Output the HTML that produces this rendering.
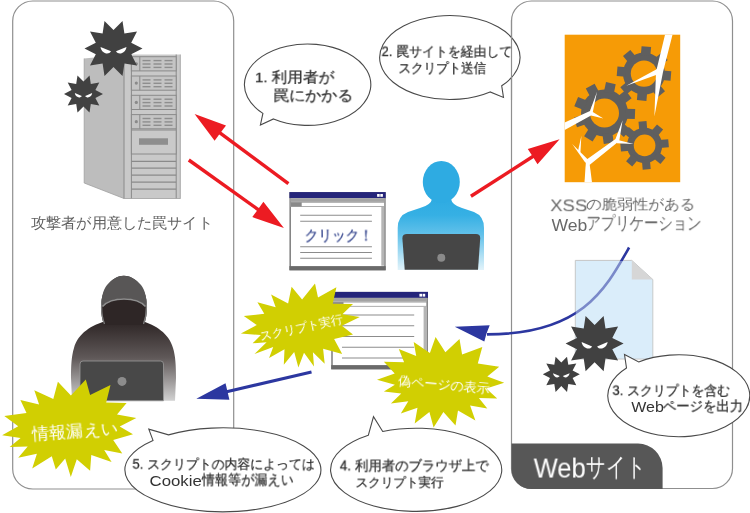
<!DOCTYPE html>
<html lang="ja"><head><meta charset="utf-8">
<style>
html,body{margin:0;padding:0;background:#fff;}
body{width:750px;height:513px;position:relative;overflow:hidden;font-family:"Liberation Sans",sans-serif;}
svg{position:absolute;left:0;top:0;}
.t{position:absolute;left:0;top:0;white-space:nowrap;line-height:1.2;transform-origin:0 0;-webkit-text-stroke:0.3px currentColor;will-change:transform;}
.w{-webkit-text-stroke:0;}
</style></head><body>
<svg width="750" height="513" viewBox="0 0 750 513">
<defs><linearGradient id="pg" gradientUnits="userSpaceOnUse" x1="0" y1="199" x2="0" y2="270"><stop offset="0" stop-color="#2eabe2"/><stop offset="0.23" stop-color="#36b0e4"/><stop offset="0.5" stop-color="#62c1ea"/><stop offset="1" stop-color="#e2f3fa"/></linearGradient><linearGradient id="hg" gradientUnits="userSpaceOnUse" x1="0" y1="322" x2="0" y2="401"><stop offset="0" stop-color="#2e2626"/><stop offset="0.45" stop-color="#5f5858"/><stop offset="1" stop-color="#d2d2d2"/></linearGradient></defs>
<rect x="12.7" y="1" width="221" height="488" rx="20" ry="20" fill="#fff" stroke="#8f8f8f" stroke-width="1.2"/>
<rect x="511.5" y="1" width="221" height="487.5" rx="20" ry="20" fill="#fff" stroke="#8f8f8f" stroke-width="1.2"/>
<path fill="#575757" d="M511.5,443.6 H638 A24.5,24.5 0 0 1 662.6,468 V489 H531.5 A20,20 0 0 1 511.5,469 Z"/>
<polygon fill="#bdbdbd" points="84.2,58.5 124,54.5 124,198.5 84.2,183"/>
<polyline fill="none" points="84.2,58.5 84.2,183 124,198.5" stroke="#a0a0a0" stroke-width="0.8"/>
<rect x="124" y="54.5" width="56.5" height="144" fill="#c9c9c9"/>
<line x1="124" y1="54.5" x2="124" y2="198.5" stroke="#8a8a8a" stroke-width="1"/>
<line x1="131.4" y1="54.5" x2="131.4" y2="198.5" stroke="#8a8a8a" stroke-width="1"/>
<line x1="176.2" y1="54.5" x2="176.2" y2="198.5" stroke="#8a8a8a" stroke-width="1"/>
<line x1="180.3" y1="54.5" x2="180.3" y2="198.5" stroke="#a0a0a0" stroke-width="0.8"/>
<rect x="131.4" y="56.7" width="44.8" height="14.2" fill="#c4c4c4" stroke="#8a8a8a" stroke-width="1"/>
<circle cx="136.3" cy="63.8" r="1.6" fill="#8a8a8a"/>
<line x1="139.8" y1="56.7" x2="139.8" y2="70.9" stroke="#8a8a8a" stroke-width="1"/>
<rect x="142.5" y="59.9" width="8" height="1.4" fill="#8e8e8e"/>
<rect x="142.5" y="63.3" width="8" height="1.4" fill="#8e8e8e"/>
<rect x="142.5" y="66.7" width="8" height="1.4" fill="#8e8e8e"/>
<rect x="153.5" y="59.9" width="8" height="1.4" fill="#8e8e8e"/>
<rect x="153.5" y="63.3" width="8" height="1.4" fill="#8e8e8e"/>
<rect x="153.5" y="66.7" width="8" height="1.4" fill="#8e8e8e"/>
<rect x="164.5" y="59.9" width="8" height="1.4" fill="#8e8e8e"/>
<rect x="164.5" y="63.3" width="8" height="1.4" fill="#8e8e8e"/>
<rect x="164.5" y="66.7" width="8" height="1.4" fill="#8e8e8e"/>
<rect x="131.4" y="76" width="44.8" height="14.2" fill="#c4c4c4" stroke="#8a8a8a" stroke-width="1"/>
<circle cx="136.3" cy="83.1" r="1.6" fill="#8a8a8a"/>
<line x1="139.8" y1="76" x2="139.8" y2="90.2" stroke="#8a8a8a" stroke-width="1"/>
<rect x="142.5" y="79.2" width="8" height="1.4" fill="#8e8e8e"/>
<rect x="142.5" y="82.6" width="8" height="1.4" fill="#8e8e8e"/>
<rect x="142.5" y="86" width="8" height="1.4" fill="#8e8e8e"/>
<rect x="153.5" y="79.2" width="8" height="1.4" fill="#8e8e8e"/>
<rect x="153.5" y="82.6" width="8" height="1.4" fill="#8e8e8e"/>
<rect x="153.5" y="86" width="8" height="1.4" fill="#8e8e8e"/>
<rect x="164.5" y="79.2" width="8" height="1.4" fill="#8e8e8e"/>
<rect x="164.5" y="82.6" width="8" height="1.4" fill="#8e8e8e"/>
<rect x="164.5" y="86" width="8" height="1.4" fill="#8e8e8e"/>
<rect x="131.4" y="95.3" width="44.8" height="14.2" fill="#c4c4c4" stroke="#8a8a8a" stroke-width="1"/>
<circle cx="136.3" cy="102.4" r="1.6" fill="#8a8a8a"/>
<line x1="139.8" y1="95.3" x2="139.8" y2="109.5" stroke="#8a8a8a" stroke-width="1"/>
<rect x="142.5" y="98.5" width="8" height="1.4" fill="#8e8e8e"/>
<rect x="142.5" y="101.9" width="8" height="1.4" fill="#8e8e8e"/>
<rect x="142.5" y="105.3" width="8" height="1.4" fill="#8e8e8e"/>
<rect x="153.5" y="98.5" width="8" height="1.4" fill="#8e8e8e"/>
<rect x="153.5" y="101.9" width="8" height="1.4" fill="#8e8e8e"/>
<rect x="153.5" y="105.3" width="8" height="1.4" fill="#8e8e8e"/>
<rect x="164.5" y="98.5" width="8" height="1.4" fill="#8e8e8e"/>
<rect x="164.5" y="101.9" width="8" height="1.4" fill="#8e8e8e"/>
<rect x="164.5" y="105.3" width="8" height="1.4" fill="#8e8e8e"/>
<rect x="131.4" y="114.6" width="44.8" height="14.2" fill="#c4c4c4" stroke="#8a8a8a" stroke-width="1"/>
<circle cx="136.3" cy="121.7" r="1.6" fill="#8a8a8a"/>
<line x1="139.8" y1="114.6" x2="139.8" y2="128.8" stroke="#8a8a8a" stroke-width="1"/>
<rect x="142.5" y="117.8" width="8" height="1.4" fill="#8e8e8e"/>
<rect x="142.5" y="121.2" width="8" height="1.4" fill="#8e8e8e"/>
<rect x="142.5" y="124.6" width="8" height="1.4" fill="#8e8e8e"/>
<rect x="153.5" y="117.8" width="8" height="1.4" fill="#8e8e8e"/>
<rect x="153.5" y="121.2" width="8" height="1.4" fill="#8e8e8e"/>
<rect x="153.5" y="124.6" width="8" height="1.4" fill="#8e8e8e"/>
<rect x="164.5" y="117.8" width="8" height="1.4" fill="#8e8e8e"/>
<rect x="164.5" y="121.2" width="8" height="1.4" fill="#8e8e8e"/>
<rect x="164.5" y="124.6" width="8" height="1.4" fill="#8e8e8e"/>
<rect x="131.4" y="130" width="44.8" height="24" fill="#c9c9c9" stroke="#8a8a8a" stroke-width="1"/>
<rect x="139" y="138.3" width="29" height="6.5" fill="#8e8e8e"/>
<line x1="131.4" y1="161.3" x2="176.2" y2="161.3" stroke="#8a8a8a" stroke-width="1.2"/>
<line x1="131.4" y1="168.2" x2="176.2" y2="168.2" stroke="#8a8a8a" stroke-width="1.2"/>
<line x1="131.4" y1="175.2" x2="176.2" y2="175.2" stroke="#8a8a8a" stroke-width="1.2"/>
<line x1="131.4" y1="182.1" x2="176.2" y2="182.1" stroke="#8a8a8a" stroke-width="1.2"/>
<line x1="131.4" y1="189.1" x2="176.2" y2="189.1" stroke="#8a8a8a" stroke-width="1.2"/>
<line x1="124" y1="198.5" x2="180.5" y2="198.5" stroke="#a0a0a0" stroke-width="0.8"/>
<polygon fill="#414141" points="142.5,48.5 131.2,54.2 137,65.5 124.4,63.5 122.5,76.1 113.5,67.1 104.5,76.1 102.6,63.5 90,65.5 95.8,54.2 84.5,48.5 95.8,42.8 90,31.5 102.6,33.5 104.5,20.9 113.5,29.9 122.5,20.9 124.4,33.5 137,31.5 131.2,42.8"/><path fill="#fff" d="M100.5,47 L111,51.3 C108.5,55.5 101.5,53.5 100.5,47 Z"/><path fill="#fff" d="M126.5,47 L116,51.3 C118.5,55.5 125.5,53.5 126.5,47 Z"/>
<polygon fill="#414141" points="103,94 95.4,97.9 99.3,105.5 90.8,104.1 89.5,112.5 83.5,106.5 77.5,112.5 76.2,104.1 67.7,105.5 71.6,97.9 64,94 71.6,90.1 67.7,82.5 76.2,83.9 77.5,75.5 83.5,81.5 89.5,75.5 90.8,83.9 99.3,82.5 95.4,90.1"/><path fill="#fff" d="M74.8,93 L81.8,95.9 C80.1,98.7 75.4,97.4 74.8,93 Z"/><path fill="#fff" d="M92.2,93 L85.2,95.9 C86.9,98.7 91.6,97.4 92.2,93 Z"/>
<line x1="288.4" y1="183.7" x2="217.9" y2="131.3" stroke="#ec1b22" stroke-width="3.4"/><polygon fill="#ec1b22" points="194.6,114 226,125.5 220.3,133.1 214.6,140.7"/>
<line x1="188.8" y1="160" x2="260.3" y2="211.1" stroke="#ec1b22" stroke-width="3.4"/><polygon fill="#ec1b22" points="283.9,228 252.3,217.1 257.9,209.4 263.4,201.7"/>
<line x1="470.9" y1="196.3" x2="535.2" y2="155" stroke="#ec1b22" stroke-width="3.4"/><polygon fill="#ec1b22" points="559.6,139.3 537.5,164.2 532.7,156.6 527.8,149"/>
<path fill="#fff" stroke="#4a4a4a" stroke-width="1.1" stroke-linejoin="miter" d="M273.5,118.9 A63.2,40.7 0 1,0 262.9,113.4 L260.4,125 Z"/>
<path fill="#fff" stroke="#4a4a4a" stroke-width="1.1" stroke-linejoin="miter" d="M501.7,85.8 A70.2,42 0 1,0 490.1,91.9 L503.5,97.4 Z"/>
<line x1="511.5" y1="20" x2="511.5" y2="100" stroke="#8f8f8f" stroke-width="1.2"/>
<rect x="290.2" y="192.9" width="94.7" height="76.8" fill="#fff" stroke="#858585" stroke-width="1.6"/><rect x="289.4" y="192.1" width="96.3" height="6" fill="#25257a"/><rect x="377.1" y="194" width="2.6" height="2.8" fill="#fff"/><rect x="380.3" y="194" width="2.6" height="2.8" fill="#fff"/><rect x="290.2" y="198.1" width="94.7" height="3.8" fill="#a3a3a3"/><rect x="290.7" y="202.3" width="93.7" height="4.2" fill="#fff" stroke="#999" stroke-width="0.8"/><rect x="290.7" y="202.3" width="11" height="4.2" fill="#8a8a8a"/><rect x="381.3" y="206.9" width="3" height="58.8" fill="#b5b5b5"/><rect x="289.4" y="266.1" width="96.3" height="4" fill="#6a6a6a"/><line x1="300.2" y1="215.2" x2="371.9" y2="215.2" stroke="#8c8c8c" stroke-width="1.1"/><line x1="300.2" y1="221.3" x2="371.9" y2="221.3" stroke="#8c8c8c" stroke-width="1.1"/><line x1="300.2" y1="246.8" x2="371.9" y2="246.8" stroke="#8c8c8c" stroke-width="1.1"/><line x1="300.2" y1="252.5" x2="371.9" y2="252.5" stroke="#8c8c8c" stroke-width="1.1"/><line x1="300.2" y1="258.3" x2="371.9" y2="258.3" stroke="#8c8c8c" stroke-width="1.1"/>
<path fill="url(#pg)" d="M432,199 L451,199 Q452,205 462,208 L474,212 Q484,216 484,228 L484,270 L397.7,270 L397.7,228 Q397.7,216 408,212 L420,208 Q431,205 432,199 Z"/>
<ellipse cx="441.3" cy="182" rx="18.5" ry="21" fill="#2eabe2"/>
<path fill="#464646" d="M407,234 H476 Q480.5,234 480.2,238.5 L478,269.7 H404.7 L402.4,238.5 Q402.2,234 407,234 Z"/>
<circle cx="441.3" cy="257.7" r="4" fill="#8a8a8a"/>
<rect x="564.7" y="34.7" width="115.5" height="147.5" fill="#f69b06"/>
<circle cx="644" cy="73.6" r="21" fill="#5f5f5f"/><polygon fill="#5f5f5f" points="661.5,79.9 670.5,80.7 671.3,71.2 662.3,70.4"/><polygon fill="#5f5f5f" points="651.9,90.4 657.7,97.3 665,91.2 659.2,84.3"/><polygon fill="#5f5f5f" points="637.7,91.1 636.9,100.1 646.4,100.9 647.2,91.9"/><polygon fill="#5f5f5f" points="627.2,81.5 620.3,87.3 626.4,94.6 633.3,88.8"/><polygon fill="#5f5f5f" points="626.5,67.3 617.5,66.5 616.7,76 625.7,76.8"/><polygon fill="#5f5f5f" points="636.1,56.8 630.3,49.9 623,56 628.8,62.9"/><polygon fill="#5f5f5f" points="650.3,56.1 651.1,47.1 641.6,46.3 640.8,55.3"/><polygon fill="#5f5f5f" points="660.8,65.7 667.7,59.9 661.6,52.6 654.7,58.4"/><circle cx="644" cy="73.6" r="13.2" fill="#f69b06"/>
<circle cx="604.5" cy="113" r="23.5" fill="#5f5f5f"/><polygon fill="#5f5f5f" points="624.8,118.7 634.8,119.1 635.2,109.1 625.2,108.7"/><polygon fill="#5f5f5f" points="616.4,130.4 623.8,137.1 630.5,129.7 623.1,123"/><polygon fill="#5f5f5f" points="602.4,134 603.8,143.9 613.7,142.5 612.3,132.6"/><polygon fill="#5f5f5f" points="589.4,127.7 584.1,136.2 592.6,141.5 597.9,133"/><polygon fill="#5f5f5f" points="583.5,114.6 573.9,117.7 577,127.2 586.5,124.1"/><polygon fill="#5f5f5f" points="587.4,100.7 578.1,96.9 574.3,106.2 583.6,110"/><polygon fill="#5f5f5f" points="599.3,92.6 594.6,83.7 585.8,88.4 590.5,97.2"/><polygon fill="#5f5f5f" points="613.7,94 615.7,84.2 606,82.1 603.9,91.9"/><polygon fill="#5f5f5f" points="623.7,104.3 631.6,98.2 625.5,90.3 617.6,96.4"/><circle cx="604.5" cy="113" r="14.5" fill="#f69b06"/>
<circle cx="644.6" cy="145.4" r="17.6" fill="#5f5f5f"/><polygon fill="#5f5f5f" points="659.5,148.1 668.9,147.3 668.2,139.3 658.8,140.1"/><polygon fill="#5f5f5f" points="653.2,157.9 660.4,163.9 665.6,157.8 658.4,151.7"/><polygon fill="#5f5f5f" points="641.9,160.3 642.7,169.7 650.7,169 649.9,159.6"/><polygon fill="#5f5f5f" points="632.1,154 626.1,161.2 632.2,166.4 638.3,159.2"/><polygon fill="#5f5f5f" points="629.7,142.7 620.3,143.5 621,151.5 630.4,150.7"/><polygon fill="#5f5f5f" points="636,132.9 628.8,126.9 623.6,133 630.8,139.1"/><polygon fill="#5f5f5f" points="647.3,130.5 646.5,121.1 638.5,121.8 639.3,131.2"/><polygon fill="#5f5f5f" points="657.1,136.8 663.1,129.6 657,124.4 650.9,131.6"/><circle cx="644.6" cy="145.4" r="10.8" fill="#f69b06"/>
<polygon fill="#fff" points="665,34.7 672.5,34.7 663,72 654.4,116.5 656,72"/>
<polygon fill="#fff" points="658,68.5 626.3,85.8 657.5,74.5"/>
<polygon fill="#fff" points="564.7,122.5 590,111 597,91.8 592.8,112 603.4,118.4 591,115.5 564.7,130"/>
<polygon fill="#fff" points="584.5,182.2 592,182.2 589.5,163 586,160"/>
<polygon fill="#fff" points="586,160 615.5,139 622.6,120.2 619.2,141 589.5,165"/>
<polygon fill="#fff" points="616,139.5 633.6,144 617,143.2"/>
<polygon fill="#fff" points="588.6,160.2 572.2,144 585.4,162.8"/>
<polygon fill="#fff" points="580.4,152.6 581.4,135.8 577.8,152"/>
<path fill="#daedfa" stroke="#c5c5c5" stroke-width="1" d="M575.3,260.4 H631.8 L652.8,279.5 V359 H575.3 Z"/>
<path fill="none" stroke="#2c37a0" stroke-width="2.6" d="M629.1,247.5 C605.2,289.8 581.5,334.2 487,334.4"/>
<polygon fill="#2c37a0" points="454.8,326.7 489.7,325.3 486.5,333.5 484.3,341.4"/>
<path fill="#daedfa" fill-opacity="0.45" d="M575.8,261 H631.5 L652.3,280 V358.5 H575.8 Z"/>
<polygon fill="#d6d6d6" points="631.8,260.4 652.8,279.5 631.8,279.5"/>
<polygon fill="#414141" points="623.6,343.6 612.3,349.3 618.1,360.6 605.5,358.6 603.6,371.2 594.6,362.2 585.6,371.2 583.7,358.6 571.1,360.6 576.9,349.3 565.6,343.6 576.9,337.9 571.1,326.6 583.7,328.6 585.6,316 594.6,325 603.6,316 605.5,328.6 618.1,326.6 612.3,337.9"/><path fill="#fff" d="M581.6,342.1 L592.1,346.4 C589.6,350.6 582.6,348.6 581.6,342.1 Z"/><path fill="#fff" d="M607.6,342.1 L597.1,346.4 C599.6,350.6 606.6,348.6 607.6,342.1 Z"/>
<polygon fill="#414141" points="579.8,374.3 572.6,378 576.3,385.2 568.3,383.9 567,391.9 561.3,386.1 555.6,391.9 554.3,383.9 546.3,385.2 550,378 542.8,374.3 550,370.6 546.3,363.4 554.3,364.7 555.6,356.7 561.3,362.5 567,356.7 568.3,364.7 576.3,363.4 572.6,370.6"/><path fill="#fff" d="M553,373.3 L559.7,376.1 C558.1,378.8 553.6,377.5 553,373.3 Z"/><path fill="#fff" d="M569.6,373.3 L562.9,376.1 C564.5,378.8 569,377.5 569.6,373.3 Z"/>
<path fill="#fff" stroke="#4a4a4a" stroke-width="1.1" stroke-linejoin="miter" d="M638.7,361.9 A71,41 0 1,1 626.5,368 L624.5,354.5 Z"/>
<rect x="332" y="292.7" width="95.2" height="76" fill="#fff" stroke="#858585" stroke-width="1.6"/><rect x="331.2" y="291.9" width="96.8" height="6" fill="#25257a"/><rect x="419.4" y="293.8" width="2.6" height="2.8" fill="#fff"/><rect x="422.6" y="293.8" width="2.6" height="2.8" fill="#fff"/><rect x="332" y="297.9" width="95.2" height="3.8" fill="#a3a3a3"/><rect x="332.5" y="302.1" width="94.2" height="4.2" fill="#fff" stroke="#999" stroke-width="0.8"/><rect x="332.5" y="302.1" width="11" height="4.2" fill="#8a8a8a"/><rect x="423.6" y="306.7" width="3" height="58" fill="#b5b5b5"/><rect x="331.2" y="365.1" width="96.8" height="4" fill="#6a6a6a"/><line x1="342" y1="315" x2="414.2" y2="315" stroke="#8c8c8c" stroke-width="1.1"/><line x1="342" y1="325.8" x2="414.2" y2="325.8" stroke="#8c8c8c" stroke-width="1.1"/><line x1="342" y1="336.5" x2="414.2" y2="336.5" stroke="#8c8c8c" stroke-width="1.1"/><line x1="342" y1="347.3" x2="414.2" y2="347.3" stroke="#8c8c8c" stroke-width="1.1"/><line x1="342" y1="358" x2="414.2" y2="358" stroke="#8c8c8c" stroke-width="1.1"/>
<path fill="url(#hg)" d="M106,321 C92,325 78,333 74,348 C71.5,356 71,366 71,378 L72,400.8 H175 L176,378 C176,366 175.5,356 173,348 C169,333 155,325 142,321 Z"/>
<path fill="#2e2626" d="M104,325 C100,314 100,300 104,292 C109,281 116,275.7 123.8,275.7 C131.5,275.7 139,281 144,292 C148,300 148,314 144,325 Z"/>
<path fill="none" stroke="#7d7d7d" stroke-width="1.3" d="M104.5,324 C100.6,314 100.6,300 104.6,292.3 M143.5,324 C147.4,314 147.4,300 143.4,292.3"/>
<path fill="#585656" d="M102,306 C101,298 103,290 107,285 C112,279 118,275.7 123.8,275.7 C130,275.7 136,279 141,285 C145,290 147,298 146,306 C141,301 133,298.5 124,298.5 C115,298.5 107,301 102,306 Z"/>
<path fill="none" stroke="#8f8f8f" stroke-width="1.6" d="M102.5,306.5 C107,301.5 115,299 124,299 C133,299 141,301.5 145.5,306.5"/>
<path fill="#484848" stroke="#9a9a9a" stroke-width="0.8" d="M83,361 H160.5 Q163.5,361 163.5,364 V400.8 H80 V364 Q80,361 83,361 Z"/>
<circle cx="122" cy="381.4" r="4.5" fill="#8c8c8c"/>
<line x1="311.5" y1="372" x2="224.5" y2="392.2" stroke="#2c37a0" stroke-width="3"/><polygon fill="#2c37a0" points="196.3,398.8 225.5,383.3 227.5,391.5 229.4,399.8"/>
<polygon fill="#d1cf02" points="240.9,333.5 256.8,325.1 243.8,316 264.3,313.8 257.4,302.3 275.7,307.3 271.1,294.5 288.1,303.4 291.6,286.7 302.1,299.5 315,283.4 318,297.6 336.4,287.3 332.7,303.8 353,304 342.4,314.3 359.8,317 341.9,325.8 353,334.5 334.1,339.1 342.2,354 323.1,348.7 324.7,363.7 312.9,352.2 314,366.6 304,352.8 298.4,367.6 294.2,352 283.8,364.7 284.5,349.2 269.1,357.9 273.2,347 254.5,354 266.6,342.3 252.6,343.3 260.9,335.1"/>
<polygon fill="#d1cf02" points="377,379.7 394.7,373.4 383.9,361.8 404.1,362.2 398.8,348.9 416.2,355.9 413.7,341.9 429.9,353 435.6,337 445.4,352.3 459.5,338.9 462.1,354.4 482.3,346.9 477.8,363.4 499.2,366.8 487.3,376.5 504.2,382.7 486.3,388.6 497.2,398.6 478.9,397.9 487.3,408.5 470.1,405.4 475.4,420.5 458,410.5 455.5,425.4 443.4,411.9 433.6,427.4 429.4,411.9 414.7,423.4 417.5,407.7 400.8,413.5 408.3,401.2 390.9,403.6 401.3,393.5 383.9,391.6 394.9,384.8"/>
<polygon fill="#d1cf02" points="2.1,435.3 18.2,426.2 4.3,416 26.5,413 20.4,399.9 39.1,404.4 34.3,390.2 53.3,399.1 57.9,381.7 70.9,395.6 85.8,379.5 90.1,394.9 110.5,384.9 106.2,402.5 126.6,403.1 117,414.6 136.3,418.1 119.7,426.6 133,434.2 113.2,439.9 122.3,453.5 104.2,449.9 111.6,462.1 91.3,454.9 90.1,470.7 76.8,459.3 70.8,477.1 65.2,458.5 55.8,469.6 51.8,456.3 32.2,468.6 36.9,453.8 18.2,457.8 27.7,446.4 9.7,447.1 20.6,438.1"/>
<path fill="#fff" stroke="#4a4a4a" stroke-width="1.1" stroke-linejoin="miter" d="M382.7,431.5 A85.6,41.6 0 1,1 368.3,435.3 L373.5,416.7 Z"/>
<path fill="#fff" stroke="#4a4a4a" stroke-width="1.1" stroke-linejoin="miter" d="M168.5,434.9 A98,42 0 1,1 153,440.4 L148.8,429.2 Z"/>
</svg>
<div class="t w" style="font-size:15px;color:#606060;transform:matrix(1.0097,0,0,1.0000,30.99,214.20)">攻撃者が用意した罠サイト</div>
<div class="t" style="font-size:15.5px;color:#333;transform:matrix(0.9800,0,0,0.9267,254.92,69.17)">1. 利用者が</div>
<div class="t" style="font-size:15.5px;color:#333;transform:matrix(1.0000,0,0,0.9267,273.20,87.47)">罠にかかる</div>
<div class="t" style="font-size:14px;color:#333;transform:matrix(0.9201,0,0,0.9462,381.58,43.71)">2. 罠サイトを経由して</div>
<div class="t" style="font-size:14px;color:#333;transform:matrix(0.8937,0,0,0.9615,398.51,60.08)">スクリプト送信</div>
<div class="t" style="font-size:15px;color:#3a4a90;transform:matrix(0.9091,0,0,1.0000,304.68,226.50)">クリック！</div>
<div class="t w" style="font-size:16px;color:#686868;transform:matrix(1.1567,0,0,0.9750,550.24,196.57)">XSS</div>
<div class="t w" style="font-size:16px;color:#686868;transform:matrix(0.9743,0,0,0.9000,586.03,195.60)">の脆弱性がある</div>
<div class="t w" style="font-size:16px;color:#686868;transform:matrix(1.1000,0,0,1.0667,551.40,214.90)">Web</div>
<div class="t w" style="font-size:16px;color:#686868;transform:matrix(0.8976,0,0,1.1077,586.40,212.17)">アプリケーション</div>
<div class="t w" style="font-size:26px;color:#fff;transform:matrix(0.9827,0,0,1.0474,533.70,452.56)">Web</div>
<div class="t w" style="font-size:26px;color:#fff;transform:matrix(0.7479,0,0,0.9818,585.75,452.09)">サイト</div>
<div class="t" style="font-size:14px;color:#333;transform:matrix(0.9183,0,0,0.9615,612.48,382.58)">3. スクリプトを含む</div>
<div class="t w" style="font-size:14px;color:#333;transform:matrix(1.1429,0,0,1.0182,631.20,398.36)">Web</div>
<div class="t" style="font-size:14px;color:#333;transform:matrix(0.9568,0,0,0.9692,662.84,398.06)">ページを出力</div>
<div class="t" style="font-size:14px;color:#333;transform:matrix(0.9538,0,0,0.9846,339.80,457.53)">4. 利用者のブラウザ上で</div>
<div class="t" style="font-size:14px;color:#333;transform:matrix(0.8979,0,0,0.9071,355.60,474.89)">スクリプト実行</div>
<div class="t" style="font-size:14px;color:#333;transform:matrix(0.9200,0,0,0.9385,132.48,456.42)">5. スクリプトの内容によっては</div>
<div class="t w" style="font-size:14px;color:#333;transform:matrix(1.2000,0,0,1.0182,149.50,473.06)">Cookie</div>
<div class="t" style="font-size:14px;color:#333;transform:matrix(0.9381,0,0,1.0231,202.00,471.45)">情報等が漏えい</div>
<div class="t w" style="font-size:14px;color:#fff;transform:matrix(0.8443,-0.1795,0.1795,0.8443,258.47,329.43)">スクリプト実行</div>
<div class="t w" style="font-size:14px;color:#fff;transform:matrix(0.9339,0.0817,-0.0817,0.9339,398.93,373.06)">偽ページの表示</div>
<div class="t w" style="font-size:17px;color:#fff;transform:matrix(1.0094,-0.0706,0.0706,1.0094,31.33,424.87)">情報漏えい</div>

</body></html>
